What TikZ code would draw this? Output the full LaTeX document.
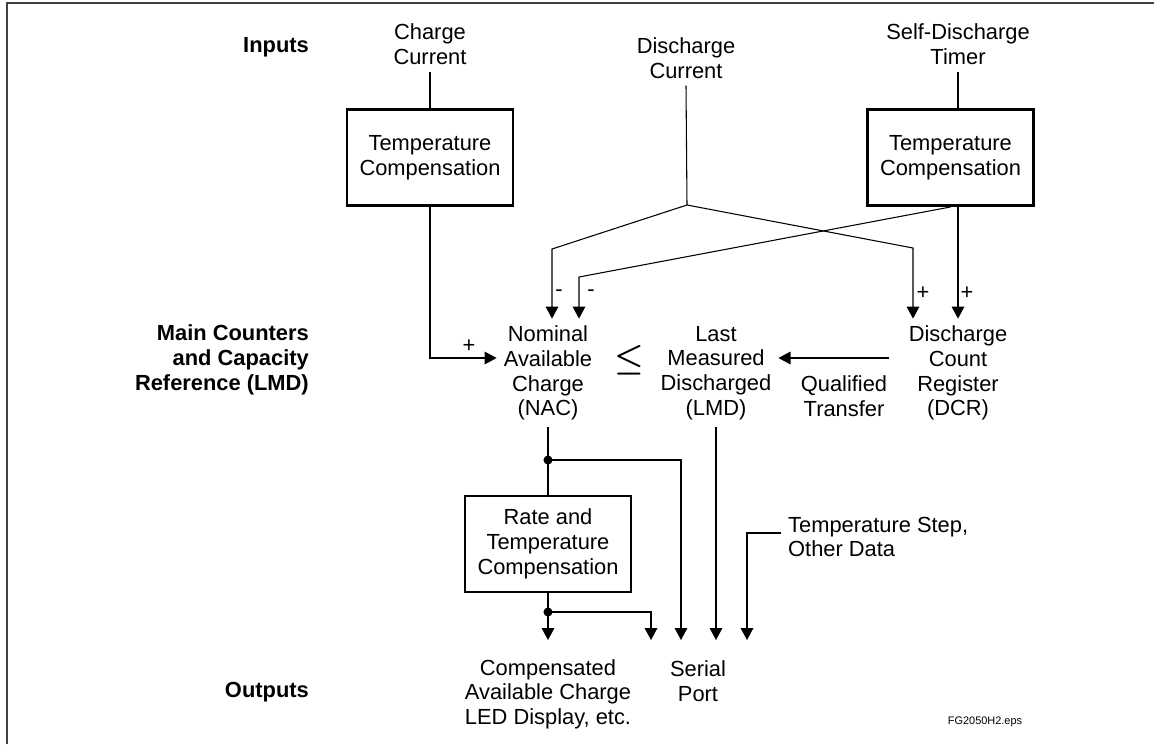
\documentclass[tikz,border=0pt]{standalone}
\usepackage{fontspec}
\setmainfont{Liberation Sans}
\usetikzlibrary{arrows.meta}

\begin{document}
\begin{tikzpicture}[x=0.75pt,y=-0.75pt,line cap=butt,line join=miter,
    >={Triangle[length=9pt,width=9.5pt]},
    every path/.style={line width=0.8pt},
    txt/.style={align=center,inner sep=5pt,font=\fontsize{16.4}{18.5}\selectfont},
    head/.style={align=right,anchor=east,inner sep=5pt,font=\fontsize{16.4}{18.5}\selectfont\bfseries},
    sign/.style={inner sep=0pt,font=\fontsize{16.4}{18.5}\selectfont},
    compbox/.style={txt,draw,line width=2.2pt,minimum width=124.5pt,minimum height=72pt}]
      \useasboundingbox (0,0) rectangle (1154,744);

      % Frame
      \draw[line width=1.1pt,black!75] (7,744) -- (7,3) -- (1154,3);

      % Row labels
      \node[head] (inputs) at (316,47) {Inputs};
      \node[head] (mainc) at (316,360) {Main Counters\\and Capacity\\Reference (LMD)};
      \node[head] (outputs) at (316,692) {Outputs};

      % Inputs and compensation
      \node[txt] (chg) at (430,44) {Charge\\Current};
      \node[txt] (dis) at (686,58) {Discharge\\Current};
      \node[txt] (sdt) at (958,44) {Self-Discharge\\Timer};
      \node[compbox] (tcl) at (430,157.5) {Temperature\\Compensation};
      \node[compbox] (tcr) at (950.5,157.5) {Temperature\\Compensation};

      % Counters
      \node[txt] (nac) at (548,373) {Nominal\\Available\\Charge\\(NAC)};
      \node[inner sep=0pt,font=\fontsize{35}{35}\selectfont\boldmath] (le) at (629,360) {$\leq$};
      \node[txt] (lmd) at (716,373) {Last\\Measured\\Discharged\\(LMD)};
      \node[txt] (dcr) at (958,373) {Discharge\\Count\\Register\\(DCR)};
      \node[txt] (qt) at (844,396) {Qualified\\Transfer};

      % Outputs
      \node[compbox] (rate) at (548,544) {Rate and\\Temperature\\Compensation};
      \node[txt,align=left,anchor=west] (ts) at (781,537) {Temperature Step,\\Other Data};
      \node[txt] (cac) at (548,694) {Compensated\\Available Charge\\LED Display, etc.};
      \node[txt] (sp) at (698,681) {Serial\\Port};
      \node[inner sep=0pt,font=\fontsize{8.2}{9}\selectfont] (fg) at (985,722) {FG2050H2.eps};

      % Corners and arrow ends
      \coordinate (dsp) at (687,205);
      \coordinate (dl) at (552,249);
      \coordinate (dr) at (913,248);
      \coordinate (tl) at (579,277);
      \coordinate (j1) at (548,460);
      \coordinate (j2) at (548,612);
      \coordinate (p0) at (548,640);
      \coordinate (p3) at (651,640);
      \coordinate (p1) at (681,640);
      \coordinate (p2) at (716,640);
      \coordinate (p4) at (747,640);

      % Add input lines
      \draw (chg.south) -- (tcl.north);
      \draw (sdt.south) -- (sdt.south |- tcr.north);
      \draw (dis.south) -- (dsp);
      \draw[->] (tcl.south) |- (nac.west |- 0,358);
      \draw[->] (dsp) -- (dl) -- (dl |- nac.north);
      \draw[->] (dsp) -- (dr) -- (dr |- dcr.north);
      \draw[->] (tcr.south) -- (tl) -- (tl |- nac.north);
      \draw[->] (sdt.south |- tcr.south) -- (sdt.south |- dcr.north);
      \draw[->,shorten <=9.75pt] (dcr.west |- 0,358) -- (lmd.east |- 0,358);

      % Signs
      \node[sign] (s1) at (469,346) {+};
      \node[sign] (s2) at (559,293) {-};
      \node[sign] (s3) at (591,293) {-};
      \node[sign] (s4) at (923,293) {+};
      \node[sign] (s5) at (967,293) {+};

      % Add output lines
      \draw (nac.south) -- (rate.north);
      \draw[->] (j1) -| (p1);
      \draw[->] (lmd.south) -- (p2);
      \draw[->] (rate.south) -- (p0);
      \draw[->] (j2) -| (p3);
      \draw[->] (ts.west |- 0,533) -| (p4);
      \fill (j1) circle (3.4pt);
      \fill (j2) circle (3.4pt);
\end{tikzpicture}
\end{document}
